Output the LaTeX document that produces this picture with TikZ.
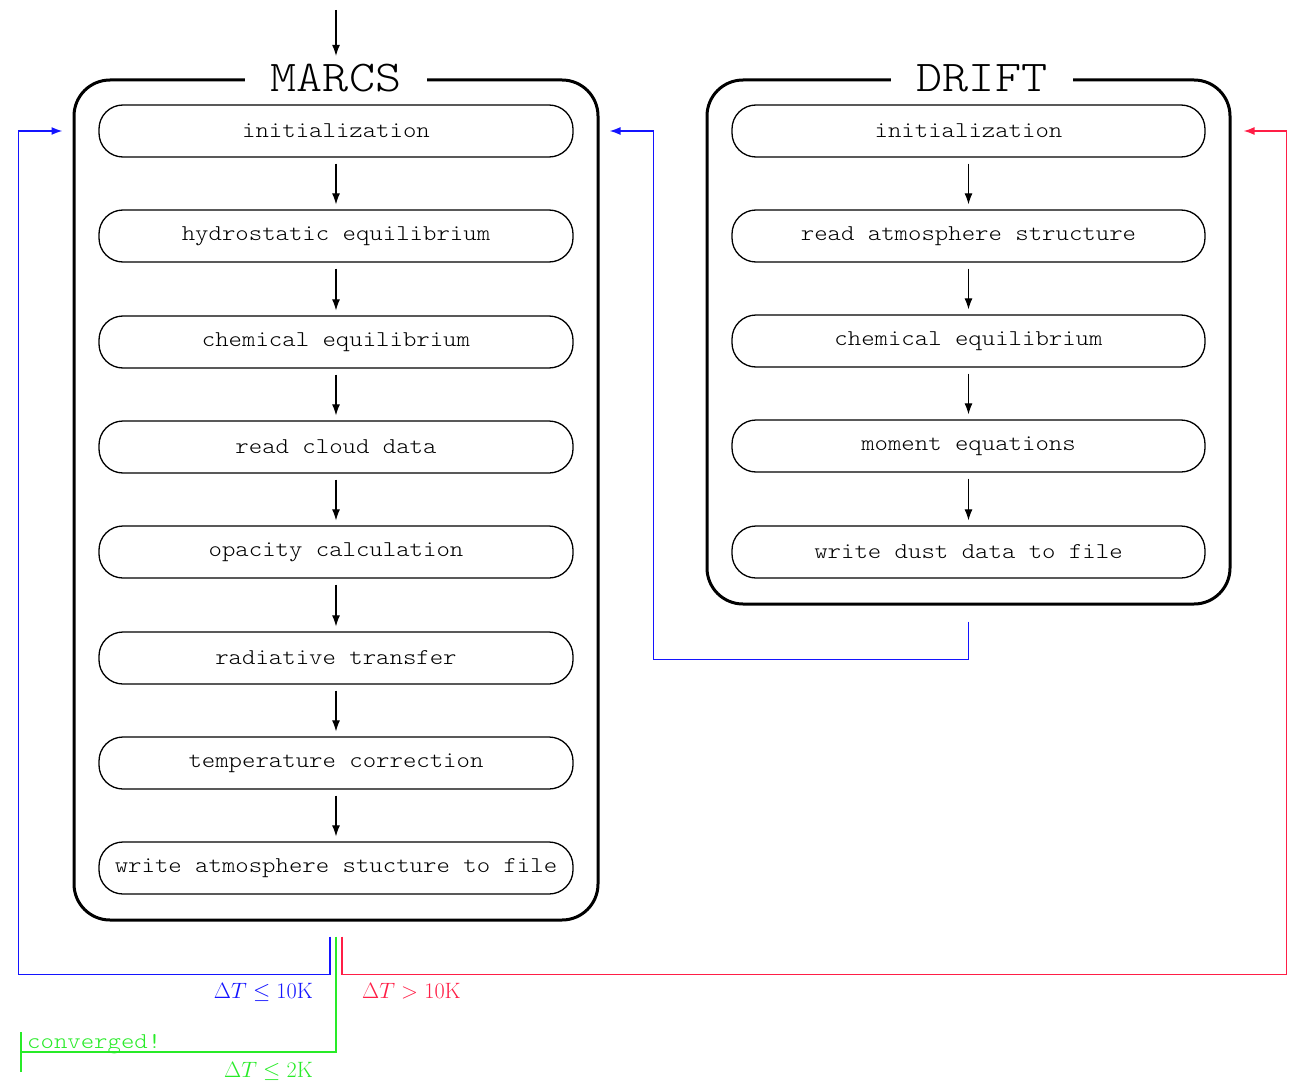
\RequirePackage{fix-cm}
\documentclass[tikz,border=0pt]{standalone}
\usepackage{fontspec}
\usetikzlibrary{arrows.meta,calc}
\newfontfamily\monoface{lmmonolt10-regular.otf}[FakeStretch=1.13]
\definecolor{loopblue}{RGB}{20,20,255}
\definecolor{loopred}{RGB}{255,30,70}
\definecolor{loopgreen}{RGB}{40,235,40}
\newcommand\monofnt[1]{\fontsize{#1}{#1}\monoface}
\begin{document}
\begin{tikzpicture}[x=1pt,y=-1pt,
  stage/.style={draw, line width=1.3pt, rounded corners=24pt, minimum width=474pt, minimum height=52pt, inner sep=0pt, font=\monofnt{22.6}},
  frame/.style={draw, line width=3pt, rounded corners=36pt, inner sep=0pt},
  titlebox/.style={fill=white, inner xsep=26pt, inner ysep=3pt, font=\monofnt{44}},
  flow/.style={-{Latex[length=11pt,width=8pt]}, line width=1.1pt, shorten <=6pt, shorten >=5pt},
  loopline/.style={line width=1.6pt, -{Latex[length=11pt,width=8pt]}},
  lab/.style={font=\fontsize{22.2}{26}\selectfont, inner sep=0pt}
]
\useasboundingbox (0,0) rectangle (1295,1086);

% outer frames
\node[frame, minimum width=524pt, minimum height=840pt] (marcs) at (336,500) {};
\node[frame, minimum width=523pt, minimum height=524pt] (drift) at (968.5,342) {};
\node[titlebox] (mtitle) at (336,78) {MARCS};
\node[titlebox] (dtitle) at (982,78) {DRIFT};

% MARCS stages
\node[stage] (m1) at (336,131) {initialization};
\node[stage] (m2) at (336,236) {hydrostatic equilibrium};
\node[stage] (m3) at (336,342) {chemical equilibrium};
\node[stage] (m4) at (336,447) {read cloud data};
\node[stage] (m5) at (336,552) {opacity calculation};
\node[stage] (m6) at (336,658) {radiative transfer};
\node[stage] (m7) at (336,763) {temperature correction};
\node[stage] (m8) at (336,868) {write atmosphere stucture to file};

% DRIFT stages
\node[stage, minimum width=473pt] (d1) at (968.5,131) {initialization};
\node[stage, minimum width=473pt] (d2) at (968.5,236) {read atmosphere structure};
\node[stage, minimum width=473pt] (d3) at (968.5,341) {chemical equilibrium};
\node[stage, minimum width=473pt] (d4) at (968.5,446) {moment equations};
\node[stage, minimum width=473pt] (d5) at (968.5,552) {write dust data to file};

% flow arrows
\coordinate (start) at (336,10);
\draw[flow, shorten <=0pt] (start) -- (mtitle.north);
\foreach \a/\b in {m1/m2,m2/m3,m3/m4,m4/m5,m5/m6,m6/m7,m7/m8,d1/d2,d2/d3,d3/d4,d4/d5}
  \draw[flow] (\a.south) -- (\b.north);

% loop coordinates
\coordinate (mr) at ($(m1 -| marcs.east)+(10,0)$);
\coordinate (ml) at ($(m1 -| marcs.west)+(-10,0)$);
\coordinate (dr) at ($(d1 -| drift.east)+(12,0)$);
\coordinate (ds) at ($(drift.south)+(0,16)$);
\coordinate (bs) at ($(marcs.south)+(-6,15)$);
\coordinate (gs) at ($(marcs.south)+(0,15)$);
\coordinate (rs) at ($(marcs.south)+(6,15)$);
\coordinate (conv) at (20,1052);

\draw[loopline, loopblue] (ds) -- ++(0,38) -| ($(mr)+(44,0)$) -- (mr);
\draw[loopline, loopblue] (bs) -- ++(0,38) -| ($(ml)+(-44,0)$) -- (ml);
\draw[loopline, loopred] (rs) -- ++(0,38) -| ($(dr)+(43,0)$) -- (dr);
\draw[line width=1.6pt, loopgreen, -{Bar[width=40pt]}] (gs) |- (conv);

% labels
\node[lab, loopblue, anchor=north east] (lb) at (313,983) {$\Delta T \le 10\mathrm{K}$};
\node[lab, loopred, anchor=north west] (lr) at (362,983) {$\Delta T > 10\mathrm{K}$};
\node[lab, loopgreen, anchor=north east] (lg) at (313,1062) {$\Delta T \le 2\mathrm{K}$};
\node[loopgreen, anchor=base west, inner sep=0pt, font=\monofnt{22.6}] (cv) at (27,1048) {converged!};
\end{tikzpicture}
\end{document}
